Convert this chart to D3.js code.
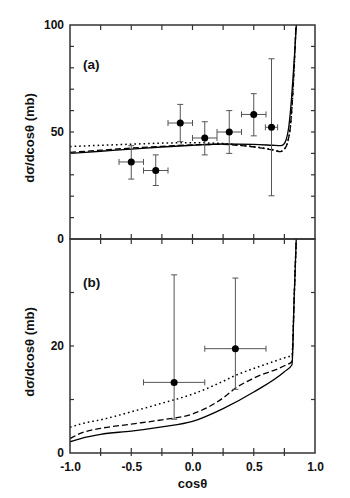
<!DOCTYPE html>
<html><head><meta charset="utf-8">
<script src="https://cdn.jsdelivr.net/npm/d3@7"></script>
<style>body{margin:0;background:#fff}svg{display:block}text{font-family:"Liberation Sans",Arial,sans-serif;font-weight:bold;fill:#111}</style>
</head><body><svg id="c" width="350" height="498"></svg>
<script>
// ---- data ----
const xTicks = [-1.0, -0.5, 0.0, 0.5, 1.0];
const xTickLabels = ["-1.0", "-0.5", "0.0", "0.5", "1.0"];
const yTicksA = [0, 50, 100];
const yTicksB = [0, 20];

// panel (a) data points: cos, value, x error, y error (down, up)
const ptsAx = [-0.5, -0.3, -0.1, 0.1, 0.3, 0.5, 0.645];
const ptsAy = [36, 32, 54.2, 47.2, 50, 58.2, 52.2];
const ptsAxe = [0.1, 0.1, 0.1, 0.1, 0.1, 0.1, 0.05];
const ptsAyDn = [8, 7, 8.7, 7.9, 10, 10, 32];
const ptsAyUp = [7.6, 7.3, 8.7, 7.6, 10, 9.7, 32];

// panel (b) data points
const ptsBx = [-0.15, 0.35];
const ptsBy = [13.2, 19.5];
const ptsBxe = [0.25, 0.25];
const ptsByDn = [6.9, 7.6];
const ptsByUp = [20.1, 13.2];

// panel (a) curves
const solidAx = [-1, -0.75, -0.5, -0.25, 0, 0.25, 0.5, 0.65, 0.72, 0.745, 0.765, 0.785, 0.80, 0.82, 0.835, 0.85, 0.86];
const solidAy = [40, 41, 42, 43, 43.8, 44.4, 44.2, 43.8, 43.6, 44.3, 46.5, 52, 60, 75, 88, 102, 112];
const dashAx = [-1, -0.75, -0.5, -0.25, 0, 0.25, 0.4, 0.55, 0.65, 0.72, 0.75, 0.78, 0.80, 0.81, 0.83, 0.845, 0.86];
const dashAy = [40.5, 41.5, 42.5, 43.3, 44, 44.2, 43.6, 42.6, 41.6, 40.8, 42, 46, 53, 60, 80, 100, 115];
const dotAx = [-1, -0.75, -0.5, -0.25, 0, 0.25, 0.4, 0.55, 0.65, 0.72, 0.75, 0.78, 0.80, 0.81, 0.83, 0.845, 0.86];
const dotAy = [43.2, 43.8, 44.3, 44.8, 45, 44.6, 43.8, 42.8, 41.8, 41.0, 42, 46, 53, 60, 80, 100, 115];

// panel (b) curves
const solidBx = [-1, -0.9, -0.75, -0.5, -0.25, 0, 0.25, 0.5, 0.75, 0.812, 0.83, 0.85];
const solidBy = [2.1, 2.8, 3.5, 4.1, 4.9, 5.9, 8.3, 11.4, 15.2, 16.5, 29, 42];
const dashBx = [-1, -0.9, -0.75, -0.5, -0.25, 0, 0.25, 0.35, 0.5, 0.75, 0.812, 0.83, 0.85];
const dashBy = [2.7, 3.8, 4.6, 5.4, 6.2, 7.3, 10.3, 12.1, 14.0, 16.3, 17.1, 29, 42];
const dotBx = [-1, -0.9, -0.75, -0.5, -0.25, 0, 0.25, 0.35, 0.5, 0.65, 0.75, 0.812, 0.83, 0.85];
const dotBy = [4.8, 5.5, 6.2, 7.7, 9.3, 11.0, 13.4, 14.5, 15.8, 17.0, 17.8, 18.3, 29, 42];

// ---- layout ----
const svg = d3.select("#c");
const L = 70, R = 315;
const x = d3.scaleLinear().domain([-1, 1]).range([L, R]);
const panels = [
  {id: "a", top: 25, bot: 239, dom: [0, 100], ticks: yTicksA, minor: d3.range(0, 101, 10), label: "(a)",
   pts: [ptsAx, ptsAy, ptsAxe, ptsAyDn, ptsAyUp],
   curves: [[solidAx, solidAy, null], [dashAx, dashAy, "6,3"], [dotAx, dotAy, "1.6,3"]]},
  {id: "b", top: 239, bot: 453, dom: [0, 40], ticks: yTicksB, minor: d3.range(0, 41, 10), label: "(b)",
   pts: [ptsBx, ptsBy, ptsBxe, ptsByDn, ptsByUp],
   curves: [[solidBx, solidBy, null], [dashBx, dashBy, "6,3"], [dotBx, dotBy, "1.6,3"]]}
];
const axisCol = "#333";
const xMinor = d3.range(-1, 1.001, 0.25);

panels.forEach(p => {
  const y = d3.scaleLinear().domain(p.dom).range([p.bot, p.top]);
  const g = svg.append("g");
  svg.append("clipPath").attr("id", "clip" + p.id).append("rect")
    .attr("x", L).attr("y", p.top).attr("width", R - L).attr("height", p.bot - p.top);

  // curves
  const cg = g.append("g").attr("clip-path", "url(#clip" + p.id + ")");
  p.curves.forEach(([cx, cy, dash]) => {
    const line = d3.line().x(i => x(cx[i])).y(i => y(cy[i])).curve(d3.curveMonotoneX);
    cg.append("path").attr("d", line(d3.range(cx.length)))
      .attr("fill", "none").attr("stroke", "#000").attr("stroke-width", dash && dash.startsWith("1.6") ? 1.5 : 1.3)
      .attr("stroke-dasharray", dash);
  });

  // error bars + points
  const [px, py, pxe, pyd, pyu] = p.pts;
  const eg = g.append("g").attr("stroke", "#555").attr("stroke-width", 1);
  px.forEach((v, i) => {
    const cx = x(v), cy = y(py[i]);
    const y0 = y(py[i] - pyd[i]), y1 = y(py[i] + pyu[i]);
    const x0 = x(v - pxe[i]), x1 = x(v + pxe[i]);
    eg.append("line").attr("x1", cx).attr("x2", cx).attr("y1", y0).attr("y2", y1);
    eg.append("line").attr("x1", cx - 3).attr("x2", cx + 3).attr("y1", y0).attr("y2", y0);
    eg.append("line").attr("x1", cx - 3).attr("x2", cx + 3).attr("y1", y1).attr("y2", y1);
    eg.append("line").attr("x1", x0).attr("x2", x1).attr("y1", cy).attr("y2", cy);
    eg.append("line").attr("x1", x0).attr("x2", x0).attr("y1", cy - 3).attr("y2", cy + 3);
    eg.append("line").attr("x1", x1).attr("x2", x1).attr("y1", cy - 3).attr("y2", cy + 3);
    g.append("circle").attr("cx", cx).attr("cy", cy).attr("r", 3.5).attr("fill", "#000");
  });

  // frame
  g.append("rect").attr("x", L).attr("y", p.top).attr("width", R - L).attr("height", p.bot - p.top)
    .attr("fill", "none").attr("stroke", axisCol).attr("stroke-width", 1.5);

  // ticks
  const tg = g.append("g").attr("stroke", axisCol).attr("stroke-width", 1.2);
  p.minor.forEach(t => {
    if (t === p.dom[0] || t === p.dom[1]) return;
    tg.append("line").attr("x1", L).attr("x2", L + 4).attr("y1", y(t)).attr("y2", y(t));
    tg.append("line").attr("x1", R).attr("x2", R - 4).attr("y1", y(t)).attr("y2", y(t));
  });
  xMinor.forEach(t => {
    if (t <= -1 || t >= 1) return;
    tg.append("line").attr("x1", x(t)).attr("x2", x(t)).attr("y1", p.top).attr("y2", p.top + 5);
    tg.append("line").attr("x1", x(t)).attr("x2", x(t)).attr("y1", p.bot).attr("y2", p.bot - 5);
  });

  // y tick labels via axis
  const ya = d3.axisLeft(y).tickValues(p.ticks).tickFormat(d3.format("d")).tickSize(0).tickPadding(6);
  const yg = g.append("g").attr("transform", `translate(${L},0)`).call(ya);
  yg.select(".domain").remove();
  yg.selectAll("text").attr("font-size", 12).attr("dy", "0.3em").style("font-family", "'Liberation Sans',Arial,sans-serif").style("font-weight", "bold").attr("fill", "#111");

  // panel label
  g.append("text").attr("x", 83).attr("y", p.top + (p.id === "a" ? 44 : 48)).attr("font-size", 13.5).text(p.label);

  // y title
  g.append("text").attr("transform", `translate(34,${(p.top + p.bot) / 2 + 6}) rotate(-90)`)
    .attr("text-anchor", "middle").attr("font-size", 13).text("dσ/dcosθ (mb)");
});

// bottom axis ticks outward and labels
const bg = svg.append("g").attr("stroke", axisCol).attr("stroke-width", 1.2);
xMinor.forEach(t => {
  if (t <= -1 || t >= 1) return;
  bg.append("line").attr("x1", x(t)).attr("x2", x(t)).attr("y1", 453).attr("y2", 456);
});
const xa = d3.axisBottom(x).tickValues(xTicks).tickFormat((d, i) => xTickLabels[i]).tickSize(0).tickPadding(9);
const xg = svg.append("g").attr("transform", "translate(0,453)").call(xa);
xg.select(".domain").remove();
xg.selectAll("text").attr("font-size", 12).style("font-family", "'Liberation Sans',Arial,sans-serif").style("font-weight", "bold").attr("fill", "#111");
svg.append("text").attr("x", x(0)).attr("y", 488).attr("text-anchor", "middle").attr("font-size", 13).text("cosθ");
</script></body></html>
